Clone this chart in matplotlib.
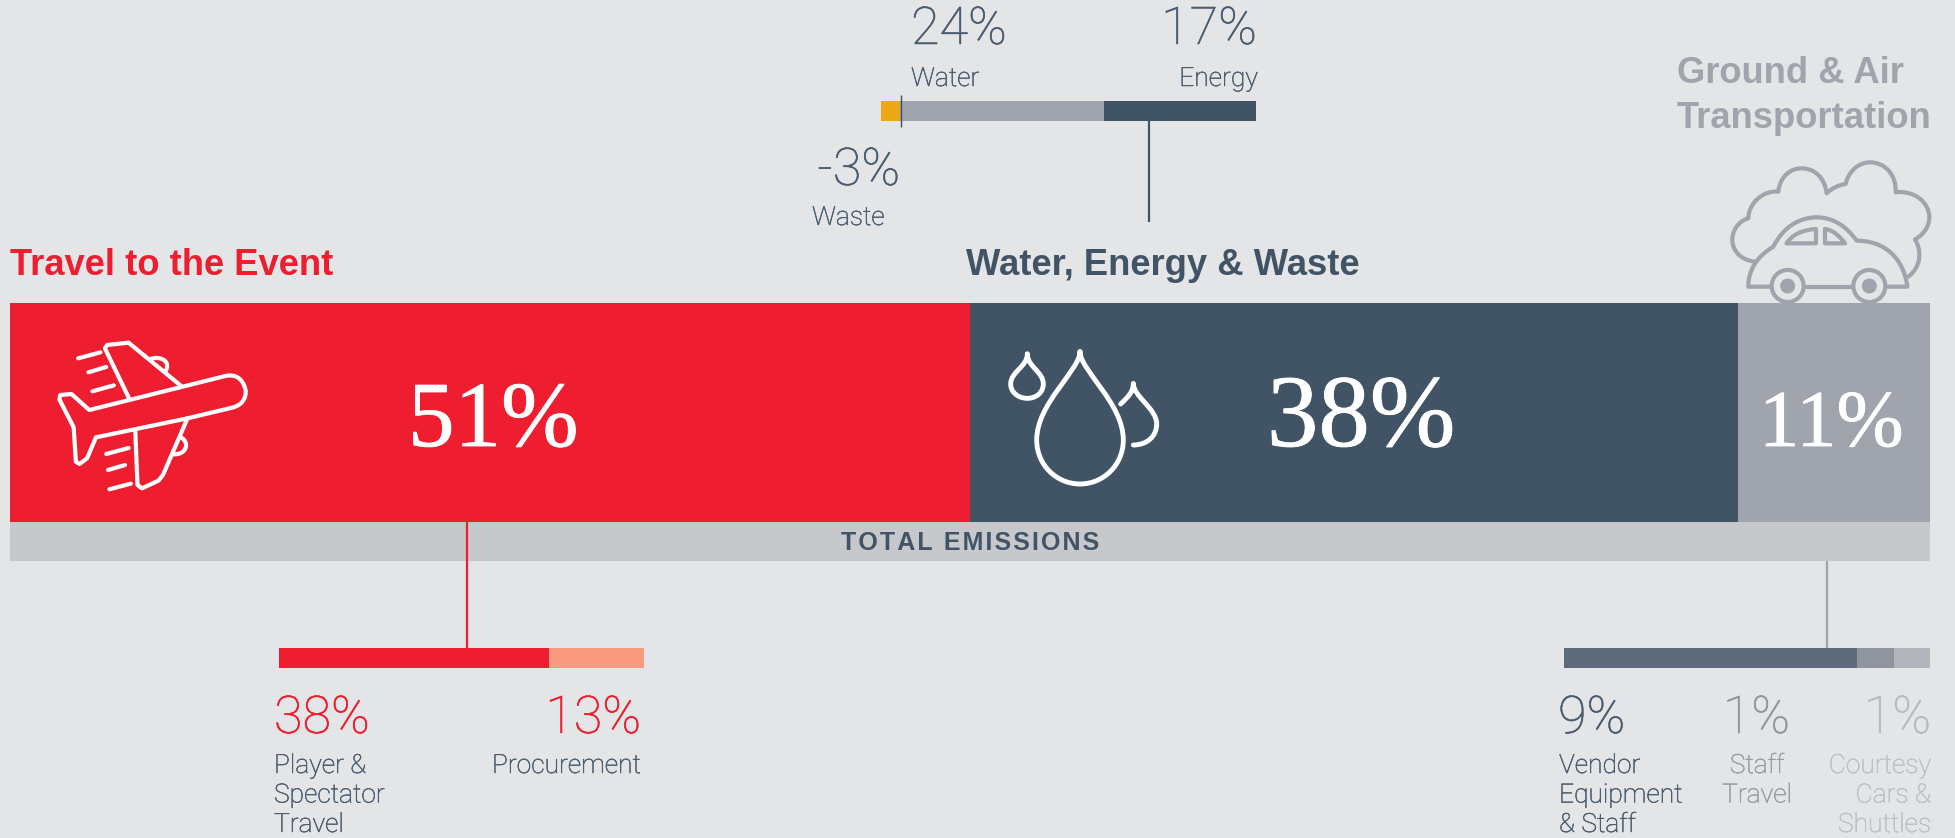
import matplotlib
matplotlib.use("Agg")
import matplotlib.pyplot as plt
import matplotlib.patheffects as pe
from matplotlib.path import Path
from matplotlib.patches import PathPatch, Circle

# === DATA ===
main_labels = ["Travel to the Event", "Water, Energy & Waste", "Ground & Air\nTransportation"]
main_pct = ["51%", "38%", "11%"]
main_len = [960, 768, 192]  # drawn length of each block

water_labels = ["Waste", "Water", "Energy"]
water_pct = ["-3%", "24%", "17%"]
water_len = [19.5, 203.5, 152]

travel_labels = ["Player &\nSpectator\nTravel", "Procurement"]
travel_pct = ["38%", "13%"]
travel_len = [270, 95]

ground_labels = ["Vendor\nEquipment\n& Staff", "Staff\nTravel", "Courtesy\nCars &\nShuttles"]
ground_pct = ["9%", "1%", "1%"]
ground_len = [293, 37, 36]

strip_label = "TOTAL EMISSIONS"

# === COLOURS ===
BG = "#e4e5e7"
RED = "#ee1d2f"
NAVY = "#415466"
GREY = "#a0a4ac"
STRIP = "#c6c8cc"
SLATE = "#4a5c6f"

plt.rcParams["font.family"] = ["Roboto", "DejaVu Sans"]

fig = plt.figure(figsize=(19.56, 8.38), dpi=100, facecolor=BG)
ax = fig.add_axes([0, 0, 1, 1])
ax.set_xlim(0, 1956)
ax.set_ylim(838, 0)
ax.axis("off")


def stacked(lengths, left, top, height, colors):
    for length, color in zip(lengths, colors):
        ax.barh(top + height / 2, length, height=height, left=left, color=color, linewidth=0)
        left += length


def label(x, y, s, size=19, color=SLATE, ha="left", weight="light", thicken=0.35, **kw):
    t = ax.text(x, y, s, fontsize=size, color=color, ha=ha, va="baseline", weight=weight, **kw)
    # Roboto Light is a bit thinner than the original face
    if thicken:
        t.set_path_effects([pe.withStroke(linewidth=thicken, foreground=color)])


def lines(x, y, s, color=SLATE, ha="left"):
    for i, part in enumerate(s.split("\n")):
        label(x, y + i * 29.5, part, color=color, ha=ha)


def icon(verts, codes=None, color="white", lw=3.0, ox=0, oy=0, sx=3.0, sy=3.0):
    pts = [(ox + vx / sx, oy + vy / sy) for vx, vy in verts]
    ax.add_patch(PathPatch(Path(pts, codes), fill=False, edgecolor=color, linewidth=lw,
                           capstyle="round", joinstyle="round"))


def bez(start, *segs):
    # start point followed by cubic segments (c1, c2, end) or single line points
    verts = [start]
    codes = [Path.MOVETO]
    for seg in segs:
        if len(seg) == 3:
            verts += list(seg)
            codes += [Path.CURVE4] * 3
        else:
            verts.append(seg[0])
            codes.append(Path.LINETO)
    return verts, codes


# === BARS ===
stacked(main_len, 9.5, 303, 219, [RED, NAVY, GREY])
stacked([sum(main_len)], 9.5, 522, 39, [STRIP])
stacked(water_len, 880.5, 101, 20, ["#efa815", GREY, NAVY])
stacked(travel_len, 279, 648, 20, [RED, "#f99a80"])
stacked(ground_len, 1563.5, 648, 20, ["#5e6a78", "#8f949f", "#b2b5bc"])

# connectors
ax.plot([1148.7, 1148.7], [121, 222], color=NAVY, lw=1.6, solid_capstyle="butt")
ax.plot([900.5, 900.5], [95, 127], color=NAVY, lw=1.0, solid_capstyle="butt")
ax.plot([467.3, 467.3], [522, 648], color=RED, lw=1.6, solid_capstyle="butt")
ax.plot([1827, 1827], [561, 648], color=GREY, lw=1.6, solid_capstyle="butt")

# hair spaces give the letter spacing of the original
ax.text(970, 550, "\u200a".join(strip_label), fontsize=18, family="Liberation Sans", weight="bold",
        color=NAVY, ha="center", va="baseline")

# === HEADINGS ===
head = dict(size=26.2, weight="bold", family="Liberation Sans", thicken=0)
label(10, 275, main_labels[0], color=RED, **head)
label(966, 275, main_labels[1], color=NAVY, **head)
g1, g2 = main_labels[2].split("\n")
label(1677, 83, g1, color=GREY, **head)
label(1677, 128, g2, color=GREY, **head)

# === BIG SERIF NUMBERS ===
serif = dict(color="white", weight="normal", family="Liberation Serif", thicken=0.6)
label(408, 446, main_pct[0], size=67, **serif)
label(1267, 446, main_pct[1], size=74, **serif)
label(1759, 446, main_pct[2], size=58, **serif)

# === TOP DETAIL ===
label(900, 185, water_pct[0], size=37.5, ha="right")
label(812, 225, water_labels[0])
label(911, 44, water_pct[1], size=37.5)
label(911, 86, water_labels[1])
label(1257, 44, water_pct[2], size=37.5, ha="right")
label(1258, 86, water_labels[2], ha="right")

# === BOTTOM LEFT DETAIL ===
label(274, 733, travel_pct[0], size=37.5, color=RED)
label(641, 733, travel_pct[1], size=37.5, color=RED, ha="right")
lines(274, 773, travel_labels[0])
lines(641, 773, travel_labels[1], ha="right")

# === BOTTOM RIGHT DETAIL ===
label(1558, 733, ground_pct[0], size=37.5)
label(1790, 733, ground_pct[1], size=37.5, color="#8f96a1", ha="right")
label(1931, 733, ground_pct[2], size=37.5, color="#b5b9c0", ha="right")
lines(1559, 773, ground_labels[0])
lines(1757, 773, ground_labels[1], color="#969ca6", ha="center")
lines(1931, 773, ground_labels[2], color="#bcc0c6", ha="right")

# === ICONS ===
# plane (traced on a crop with x scale 2.24, y scale 3)
plane = dict(ox=0, oy=240, sx=2.24, sy=3.0)
v, c = bez((420, 535), [(520, 503)], [(545, 495), (552, 470), (550, 450)],
           [(545, 420), (530, 400), (505, 408)], [(200, 510)], [(160, 462)], [(135, 465)],
           [(133, 478)], [(165, 562)], [(170, 665)], [(178, 672)], [(195, 655)], [(215, 592)],
           [(420, 535)])
icon(v, c, **plane)
icon([(288, 472), (235, 325), (240, 315), (288, 308), (405, 437)], **plane)
icon([(303, 572), (308, 735), (318, 745), (355, 722), (365, 705), (420, 535)], **plane)
v, c = bez((335, 358), [(360, 345), (385, 365), (370, 395)])
icon(v, c, **plane)
v, c = bez((405, 592), [(425, 605), (420, 645), (388, 643)])
icon(v, c, **plane)
for p, q in [((175, 355), (225, 337)), ((198, 397), (238, 381)), ((207, 454), (255, 436)),
             ((238, 642), (288, 624)), ((242, 690), (280, 675)), ((245, 748), (293, 731))]:
    icon([p, q], **plane)

# drops
drop = dict(ox=960, oy=280, lw=3.5)
v, c = bez((360, 215), [(360, 270), (490, 370), (490, 480)], [(490, 555), (430, 612), (360, 612)],
           [(290, 612), (230, 555), (230, 480)], [(230, 370), (360, 270), (360, 215)])
icon(v, c, **drop)
v, c = bez((202, 222), [(202, 260), (250, 275), (250, 312)], [(250, 338), (228, 355), (202, 355)],
           [(176, 355), (152, 338), (152, 312)], [(152, 275), (202, 260), (202, 222)])
icon(v, c, **drop)
v, c = bez((482, 372), [(505, 350), (520, 335), (520, 310)], [(520, 350), (590, 385), (590, 432)],
           [(590, 470), (560, 495), (520, 495)])
icon(v, c, **drop)

# car and cloud
car = dict(ox=1660, oy=30, color=GREY, lw=3.0)
v, c = bez((285, 695), [(240, 690), (215, 660), (217, 625)], [(220, 590), (245, 570), (265, 565)],
           [(265, 520), (310, 480), (355, 485)], [(360, 440), (390, 415), (425, 415)],
           [(465, 415), (495, 445), (500, 490)], [(515, 475), (535, 465), (557, 462)],
           [(565, 425), (595, 397), (630, 397)], [(675, 397), (710, 435), (707, 487)],
           [(760, 480), (808, 515), (808, 562)], [(808, 590), (790, 615), (765, 628)],
           [(785, 660), (785, 710), (745, 740)])
icon(v, c, **car)
v, c = bez((330, 770), [(265, 770)], [(265, 720), (290, 680), (340, 650)],
           [(370, 590), (420, 562), (470, 562)], [(520, 562), (560, 590), (590, 632)],
           [(670, 632), (730, 680), (742, 770)], [(680, 770)])
icon(v, c, **car)
icon([(435, 770), (575, 770)], **car)
v, c = bez((380, 640), [(400, 610), (430, 600), (468, 597)], [(468, 640)], [(380, 640)])
icon(v, c, **car)
v, c = bez((495, 597), [(520, 600), (540, 620), (555, 640)], [(495, 640)], [(495, 597)])
icon(v, c, **car)
for wx in (383, 628):
    cx, cy = 1660 + wx / 3, 30 + 768 / 3
    ax.add_patch(Circle((cx, cy), 16, fill=False, edgecolor=GREY, linewidth=3.0))
    ax.add_patch(Circle((cx, cy), 7.5, facecolor=GREY, linewidth=0))

fig.savefig("out.png", dpi=100, facecolor=BG)
